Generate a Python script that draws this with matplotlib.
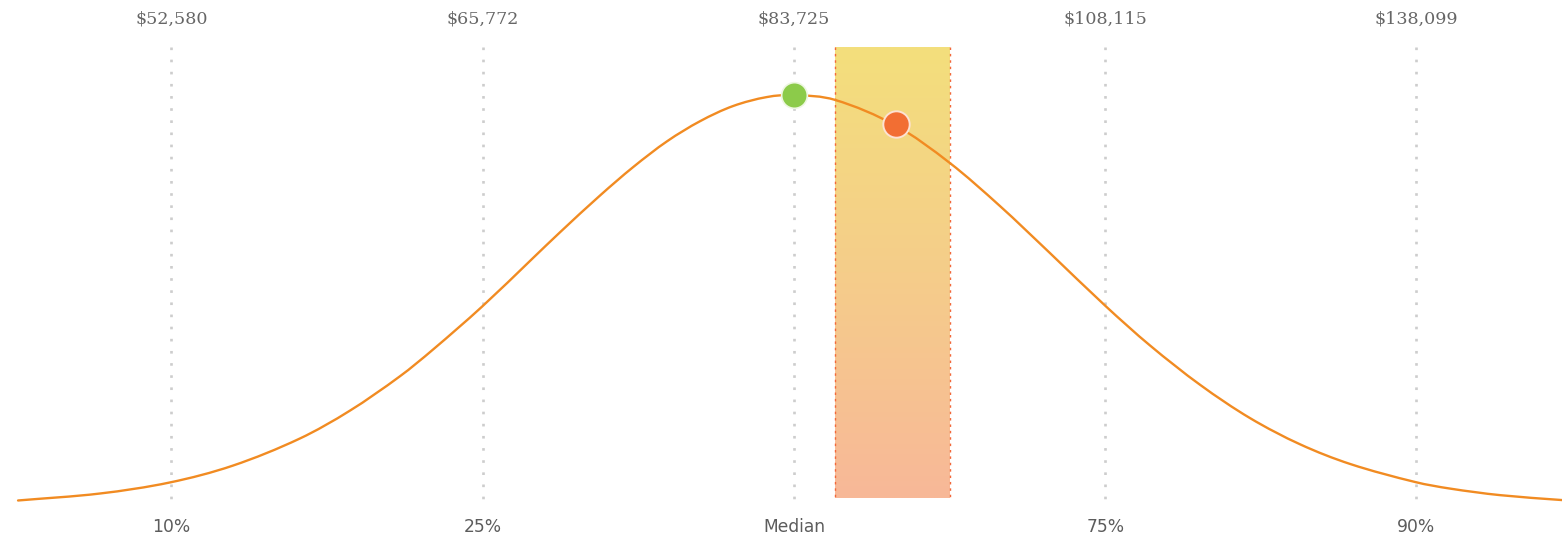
import numpy as np
import matplotlib
matplotlib.use("Agg")
import matplotlib.pyplot as plt
from matplotlib.colors import LinearSegmentedColormap
from matplotlib.path import Path
from matplotlib.patches import PathPatch

# ---- data ----
percentile_labels = ["10%", "25%", "Median", "75%", "90%"]
salary_labels = ["$52,580", "$65,772", "$83,725", "$108,115", "$138,099"]
percentile_pos = [-2, -1, 0, 1, 2]

# distribution curve (position in percentile-spacing units, relative density)
curve_pos = [-2.493, -2.230, -2.005, -1.803, -1.588, -1.427, -1.266, -1.160,
             -1.002, -0.839, -0.752, -0.623, -0.517, -0.408, -0.302, -0.196,
             -0.087, 0.000, 0.132, 0.328, 0.501, 0.662, 0.823, 1.000,
             1.144, 1.305, 1.465, 1.626, 1.787, 1.996, 2.108, 2.269, 2.468]
curve_density = [0.011, 0.028, 0.055, 0.096, 0.162, 0.230, 0.314, 0.379,
                 0.484, 0.602, 0.665, 0.755, 0.824, 0.887, 0.936, 0.973,
                 0.995, 1.000, 0.988, 0.925, 0.834, 0.729, 0.614, 0.486,
                 0.389, 0.293, 0.212, 0.148, 0.100, 0.056, 0.040, 0.024, 0.012]

median_point = (0.0, 1.000)
you_point = (0.328, 0.930)
shade_range = (0.132, 0.501)

# ---- figure ----
W, H, DPI = 1562, 538, 100
fig = plt.figure(figsize=(W / DPI, H / DPI), dpi=DPI)
ax = fig.add_axes([0, 0, 1, 1])
ax.set_xlim(-2.551, 2.4675)
ax.set_ylim(-0.0805, 1.2317)
ax.axis("off")

grid_top, grid_bot = 1.117, 0.008

# gridlines (drawn from the top down so the first dot sits at the top)
for p in percentile_pos:
    ax.plot([p, p], [grid_top, grid_bot], color="#cdcdcd", lw=1.9,
            linestyle=(0, (1, 3.6)), dash_capstyle="butt", zorder=1)

# gradient shaded band
cmap = LinearSegmentedColormap.from_list(
    "band", ["#f8b898", "#f5cd8a", "#f3df7c"])
grad = np.linspace(0, 1, 256).reshape(-1, 1)
shade_bot, shade_top = 0.0171, 1.117
ax.imshow(grad, cmap=cmap, origin="lower", aspect="auto",
          extent=[shade_range[0], shade_range[1], shade_bot, shade_top],
          zorder=2, interpolation="bilinear")
for xv in shade_range:
    ax.plot([xv, xv], [shade_top, shade_bot], color="#f2683a", lw=1.0,
            linestyle=(0, (1.8, 2.8)), zorder=3)

# smooth curve through the read points (cubic Hermite rendered as Bezier path)
xs = np.asarray(curve_pos, float)
ys = np.asarray(curve_density, float)
n = len(xs)
m = np.empty(n)
m[1:-1] = (ys[2:] - ys[:-2]) / (xs[2:] - xs[:-2])
m[0] = (ys[1] - ys[0]) / (xs[1] - xs[0])
m[-1] = (ys[-1] - ys[-2]) / (xs[-1] - xs[-2])
verts = [(xs[0], ys[0])]
codes = [Path.MOVETO]
for i in range(n - 1):
    dx = xs[i + 1] - xs[i]
    verts += [(xs[i] + dx / 3, ys[i] + m[i] * dx / 3),
              (xs[i + 1] - dx / 3, ys[i + 1] - m[i + 1] * dx / 3),
              (xs[i + 1], ys[i + 1])]
    codes += [Path.CURVE4] * 3
ax.add_patch(PathPatch(Path(verts, codes), facecolor="none",
                       edgecolor="#f18b22", lw=1.7, zorder=4,
                       capstyle="round", joinstyle="round"))

# markers
ax.plot([median_point[0]], [median_point[1]], "o", ms=18.5,
        color="#8ccb4a", mec="#eef7e2", mew=1.2, zorder=5)
ax.plot([you_point[0]], [you_point[1]], "o", ms=19,
        color="#f26e33", mec="#fde2d2", mew=1.4, zorder=5)

# labels
for p, s in zip(percentile_pos, salary_labels):
    ax.text(p, 1.186, s, ha="center", va="center", fontsize=12.6,
            family="DejaVu Serif", color="#666666")
for p, s in zip(percentile_pos, percentile_labels):
    ax.text(p, -0.054, s, ha="center", va="center", fontsize=12.3,
            family="DejaVu Sans", color="#5c5c5c")

fig.savefig("out.png", dpi=DPI)
